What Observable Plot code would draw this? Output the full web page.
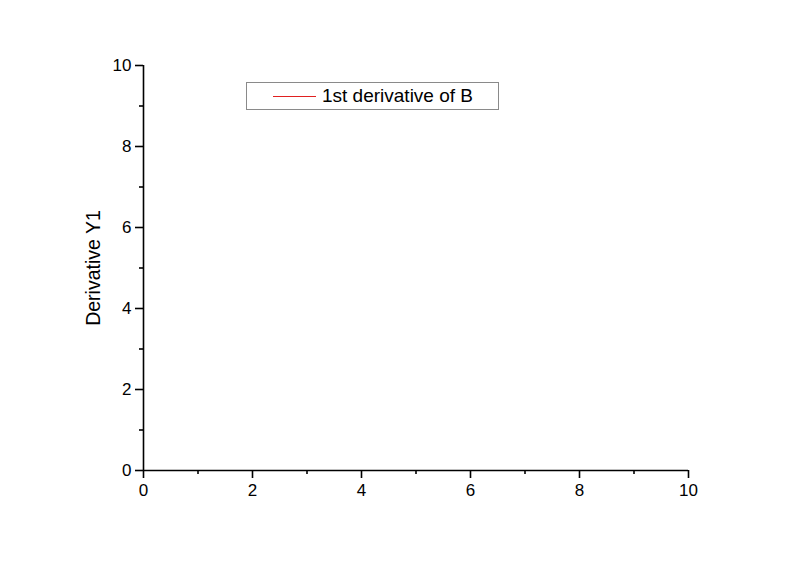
<!DOCTYPE html>
<html>
<head>
<meta charset="utf-8">
<script src="https://cdn.jsdelivr.net/npm/d3@7"></script>
<script src="https://cdn.jsdelivr.net/npm/@observablehq/plot@0.6"></script>
<style>
  html, body { margin: 0; padding: 0; background: #fff; }
  #wrap { position: relative; width: 800px; height: 564px; font-family: "Liberation Sans", Arial, sans-serif; }
  #legend { position: absolute; left: 246px; top: 82px; width: 251px; height: 26px; border: 1px solid #8a8a8a; background: #fff; }
  #legend .swatch { position: absolute; left: 26px; top: 13px; width: 43px; height: 0; border-top: 1px solid #e02020; }
  #legend .lbl { position: absolute; left: 75px; top: 2px; font-size: 19px; line-height: 21px; color: #000; white-space: nowrap; }
</style>
</head>
<body>
<div id="wrap"></div>
<script>
// Data (the reference chart has no plotted points for the series)
const seriesName = "1st derivative of B";
const seriesX = [];
const seriesY = [];
const majorTicksX = [0, 2, 4, 6, 8, 10];
const minorTicksX = [1, 3, 5, 7, 9];
const majorTicksY = [0, 2, 4, 6, 8, 10];
const minorTicksY = [1, 3, 5, 7, 9];
const yLabel = "Derivative Y1";

const data = seriesX.map((x, i) => ({x, y: seriesY[i]}));

const chart = Plot.plot({
  width: 800,
  height: 564,
  marginLeft: 143,
  marginRight: 112,
  marginTop: 65,
  marginBottom: 94,
  style: {fontFamily: "Liberation Sans, Arial, sans-serif", color: "#000", background: "#fff", overflow: "visible"},
  x: {domain: [0, 10]},
  y: {domain: [0, 10]},
  marks: [
    Plot.line(data, {x: "x", y: "y", stroke: "#e02020", strokeWidth: 1}),
    Plot.axisX({ticks: majorTicksX, tickSize: 8, tickPadding: 5, fontSize: 17, strokeWidth: 1.6, label: null, tickFormat: d => String(d)}),
    Plot.axisX({ticks: minorTicksX, tickSize: 4, strokeWidth: 1.6, label: null, tickFormat: () => ""}),
    Plot.axisY({ticks: majorTicksY, tickSize: 8, tickPadding: 4, fontSize: 17, strokeWidth: 1.6, tickFormat: d => String(d),
      label: yLabel, labelAnchor: "center", labelArrow: "none", labelOffset: 57}),
    Plot.axisY({ticks: minorTicksY, tickSize: 4, strokeWidth: 1.6, label: null, tickFormat: () => ""}),
    Plot.ruleX([0], {strokeWidth: 1.6}),
    Plot.ruleY([0], {strokeWidth: 1.6})
  ]
});
const wrap = document.getElementById("wrap");
wrap.appendChild(chart);
// enlarge y-axis title font
chart.querySelectorAll("g[aria-label='y-axis label'] text").forEach(t => t.setAttribute("font-size", 19.5));
chart.querySelectorAll("g[aria-label='y-axis label']").forEach(g => g.setAttribute("font-size", 19.5));

const legend = document.createElement("div");
legend.id = "legend";
legend.innerHTML = `<div class="swatch"></div><div class="lbl"></div>`;
legend.querySelector(".lbl").textContent = seriesName;
wrap.appendChild(legend);
</script>
</body>
</html>
